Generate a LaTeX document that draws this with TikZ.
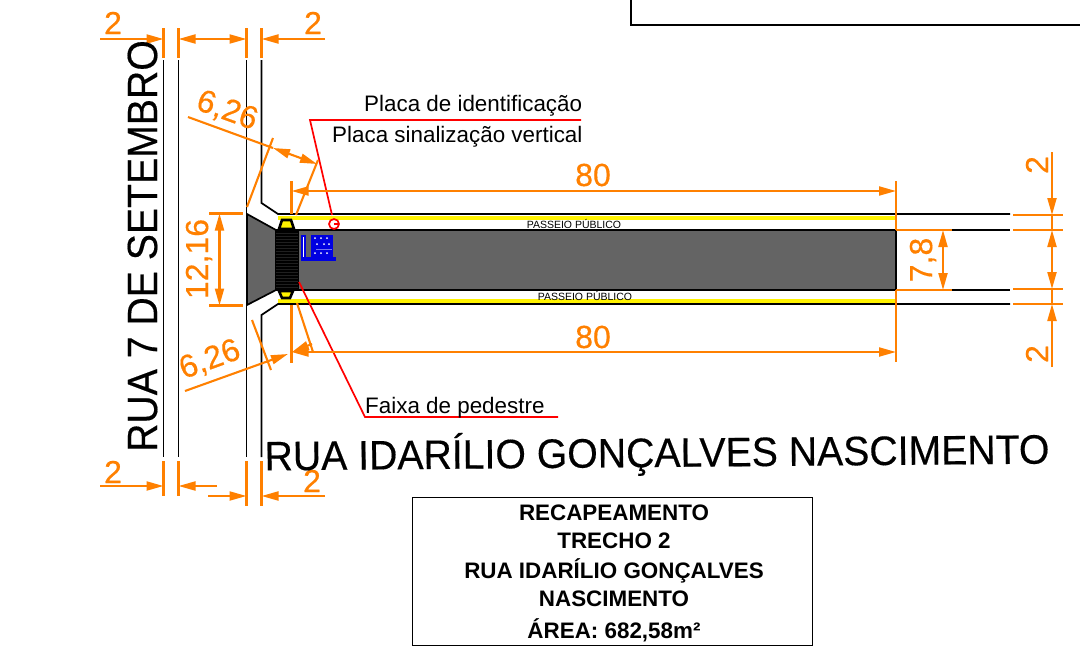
\documentclass[tikz,border=0pt]{standalone}
\usepackage{fontspec}
\setmainfont{Liberation Sans}
\newfontfamily\dimfont[FakeBold=0.35]{Liberation Sans}
\usetikzlibrary{arrows.meta}
\definecolor{dimo}{RGB}{255,128,0}
\definecolor{road}{RGB}{100,100,100}
\definecolor{sign}{RGB}{0,0,225}
\tikzset{
 dimline/.style={draw=dimo,line width=2.1pt},
 dimarrow/.style={dimline,-{Triangle[length=17pt,width=9pt,fill=dimo]}},
 dimboth/.style={dimline,{Triangle[length=17pt,width=9pt,fill=dimo]}-{Triangle[length=17pt,width=9pt,fill=dimo]}},
 dimtext/.style={text=dimo,inner sep=0pt,font=\dimfont\fontsize{32}{32}\selectfont},
 kerb/.style={draw=black,line width=1.7pt},
 leader/.style={draw=red,line width=1.7pt},
 lbl/.style={inner sep=0pt,anchor=base west,font=\fontsize{22.4}{22.4}\selectfont},
 tinylbl/.style={inner sep=0pt,font=\fontsize{10.5}{10.5}\selectfont},
 titleln/.style={inner sep=0pt,font=\bfseries\fontsize{22.4}{22.4}\selectfont},
 streetname/.style={inner sep=0pt,font=\dimfont\fontsize{39.2}{39.2}\selectfont},
}
\begin{document}
\begin{tikzpicture}[x=1pt,y=-1pt]
\useasboundingbox (0,0) rectangle (1080,654);
\draw[kerb] (631,-2) -- (631,25) -- (1082,25);
% road bands
\fill[yellow] (278,216) rectangle (896,220);
\fill[yellow] (278,299) rectangle (896,303);
\filldraw[fill=road,draw=black,line width=1.7pt] (247,214) -- (276,230) -- (896,230) -- (896,290) -- (276,290) -- (247,305) -- cycle;
% kerbs
\draw[kerb] (163.5,60) -- (163.5,457);
\draw[kerb] (178.5,60) -- (178.5,457);
\draw[kerb] (246.5,60) -- (246.5,457);
\draw[kerb] (261.5,60) -- (261.5,203) -- (278,214) -- (1010,214);
\draw[kerb] (261.5,457) -- (261.5,315) -- (278,304) -- (1010,304);
\draw[kerb] (896,230) -- (1010,230);
\draw[kerb] (896,290) -- (1010,290);
% crosswalk
\fill[black] (275,229) rectangle (299,291);
\foreach \yy in {233,236,...,288}{\draw[black!88,line width=0.25pt] (276,\yy) -- (298,\yy);}
\filldraw[fill=yellow,draw=black,line width=2.6pt] (279,229) -- (282,220) -- (291,220) -- (294,229) -- cycle;
\filldraw[fill=yellow,draw=black,line width=2.6pt] (279,291) -- (282,298) -- (290,298) -- (293,291) -- cycle;
% sign
\filldraw[fill=white,draw=sign,line width=1.5pt] (302,236) rectangle (305,259);
\fill[sign] (301,257) rectangle (336,261);
\fill[sign] (311,235) rectangle (333,257);
\foreach \xx/\yy in {315/238,321/238,327/238,317/244,324/244,329/244,315/253,321/253,327/253}{\fill[white] (\xx,\yy) circle (1);}
\draw[white,opacity=.45,line width=0.8pt] (316,249) -- (332,249);
% leaders
\draw[leader] (581,120) -- (310,120) -- (332,215);
\draw[leader] (334,224) circle (5);
\draw[leader] (334,224) -- (339,224);
\draw[leader] (299,282) -- (365,417) -- (558,417);
% dimension extension
\draw[dimline] (163.5,28) -- (163.5,58);
\draw[dimline] (178.5,28) -- (178.5,58);
\draw[dimline] (246.5,28) -- (246.5,58);
\draw[dimline] (261.5,28) -- (261.5,58);
\draw[dimarrow] (100,39) -- (163.5,39);
\draw[dimboth] (178.5,39) -- (246.5,39);
\draw[dimarrow] (325,39) -- (261.5,39);
\draw[dimline] (163.5,461) -- (163.5,496);
\draw[dimline] (178.5,461) -- (178.5,496);
\draw[dimline] (246.5,461) -- (246.5,506);
\draw[dimline] (261.5,461) -- (261.5,506);
\draw[dimarrow] (100,486) -- (163.5,486);
\draw[dimarrow] (217,486) -- (178.5,486);
\draw[dimarrow] (208,496) -- (246.5,496);
\draw[dimarrow] (325,496) -- (261.5,496);
\node[dimtext] at (113,23) {2};
\node[dimtext] at (313,23) {2};
\node[dimtext] at (113,472) {2};
\node[dimtext] at (312,481) {2};
% skewed 6,26
\draw[dimline] (273,138) -- (247,207);
\draw[dimline] (318,160) -- (296,215);
\draw[dimline] (188,117) -- (273,148);
\draw[dimarrow] (295,156) -- (273,148);
\draw[dimarrow] (295,156) -- (317,164);
\node[dimtext,rotate=-20] at (227,111) {6,26};
\draw[dimline] (252,320) -- (271,370);
\draw[dimline] (297,303) -- (313,352);
\draw[dimarrow] (185,391) -- (288,354);
\draw[dimarrow] (312,344) -- (292,352);
\node[dimtext,rotate=20] at (210,360) {6,26};
% 12,16
\draw[dimline] (209,213.5) -- (243,213.5);
\draw[dimline] (209,305.5) -- (243,305.5);
\draw[dimboth] (219.5,213.5) -- (219.5,305.5);
\node[dimtext,rotate=90] at (199,259) {12,16};
% 80
\draw[dimline] (291.5,181) -- (291.5,214);
\draw[dimline] (291.5,305) -- (291.5,363);
\draw[dimline] (896,181) -- (896,230);
\draw[dimline] (896,290) -- (896,362);
\draw[dimarrow] (330,191) -- (291.5,191);
\draw[dimarrow] (330,191) -- (896,191);
\draw[dimarrow] (313,352) -- (291.5,352);
\draw[dimarrow] (313,352) -- (896,352);
\node[dimtext] at (593,175) {80};
\node[dimtext] at (593,337) {80};
% 7,8
\draw[dimline] (896,230) -- (952,230);
\draw[dimline] (896,290) -- (952,290);
\draw[dimboth] (943,230) -- (943,290);
\node[dimtext,rotate=90] at (923,260) {7,8};
% right 2s
\foreach \yy in {215,230,289,304}{\draw[dimline] (1013,\yy) -- (1063,\yy);}
\draw[dimarrow] (1052,152) -- (1052,215);
\draw[dimboth] (1052,230) -- (1052,289);
\draw[dimarrow] (1052,367) -- (1052,304);
\draw[dimline] (1052,215) -- (1052,230);
\draw[dimline] (1052,289) -- (1052,304);
\node[dimtext,rotate=90] at (1037,165) {2};
\node[dimtext,rotate=90] at (1037,354) {2};
% labels
\node[lbl] at (364,111) {Placa de identificação};
\node[lbl] at (332,142) {Placa sinalização vertical};
\node[lbl] at (365,413) {Faixa de pedestre};
\node[tinylbl] at (574,224) {PASSEIO PÚBLICO};
\node[tinylbl] at (585,296) {PASSEIO PÚBLICO};
\node[streetname,rotate=90,yscale=1.08,transform shape] at (142.5,246) {RUA 7 DE SETEMBRO};
\node[streetname,rotate=0.5,yscale=1.05,transform shape] at (657,453.5) {RUA IDARÍLIO GONÇALVES NASCIMENTO};
% title
\draw[draw=black,line width=1pt] (412,497) rectangle (812,645);
\node[titleln] at (614,513) {RECAPEAMENTO};
\node[titleln] at (614,541) {TRECHO 2};
\node[titleln] at (614,571) {RUA IDARÍLIO GONÇALVES};
\node[titleln] at (614,599) {NASCIMENTO};
\node[titleln] at (614,630) {ÁREA: 682,58m²};
\end{tikzpicture}
\end{document}
